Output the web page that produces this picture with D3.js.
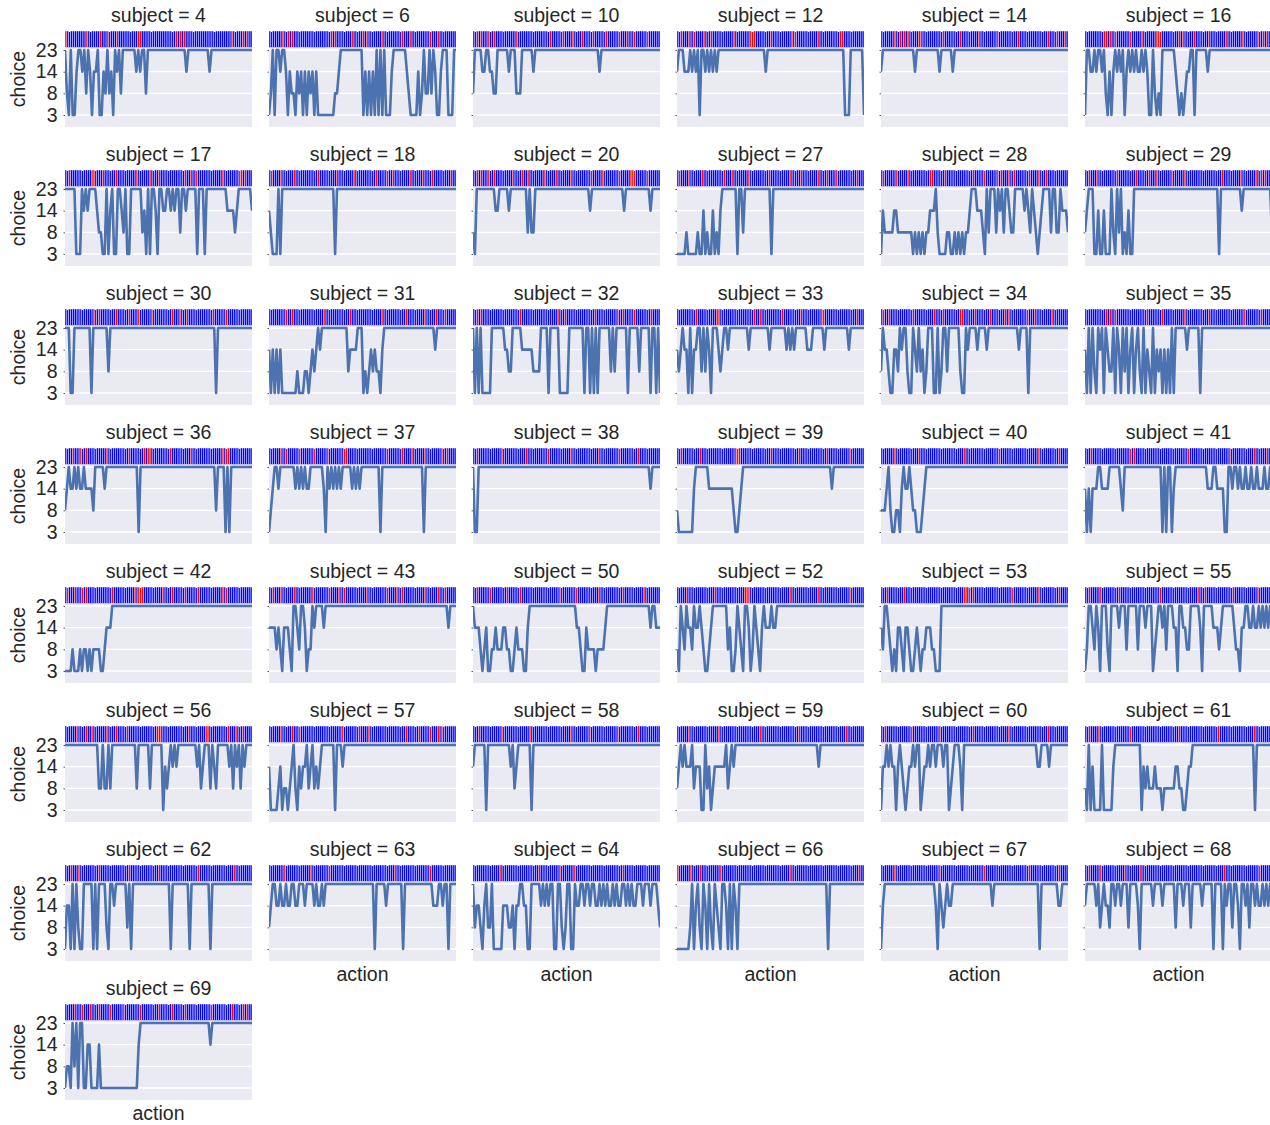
<!DOCTYPE html>
<html>
<head>
<meta charset="utf-8">
<script src="https://cdn.jsdelivr.net/npm/d3@7"></script>
<style>
  body { margin: 0; background: #ffffff; }
  text { font-family: "Liberation Sans", Arial, sans-serif; fill: #262626; }
</style>
</head>
<body>
<svg id="chart" width="1270" height="1125"></svg>
<script>
// Subjects, one panel each, in reading order
const subjects = [4, 6, 10, 12, 14, 16, 17, 18, 20, 27, 28, 29, 30, 31, 32, 33, 34, 35, 36, 37,
  38, 39, 40, 41, 42, 43, 50, 52, 53, 55, 56, 57, 58, 59, 60, 61, 62, 63, 64, 66, 67, 68, 69];

// Choice options, bottom to top on the y axis
const choiceLevels = [3, 8, 14, 23];
const choiceTickLabels = ["3", "8", "14", "23"];

// Choice on each trial, run-length coded: letter = option (A=3, B=8, C=14, D=23), number = trials in a row
const choiceRuns = [
  "D1B1A1D1A2C1D2C1D1B1D1C1A1C2D1A2C1B1D1B1C1A1D1C1D1B1D7C1D1C1D2B1D20C1D11C1D22",
  "A1B1D1A1D2C1D2C1A1C1B2A1C1B1C1A1C1A1C1B1C1A1C1A9B2C1D12A1C1A1C1A1C1A1D1A1D1A1D1A3C1D7C1B1A4C1A1B1D1B2D1B1D1C1A2C1D3A3D2",
  "B1D4C2D2C2B2D6C1D3B3D6C1D34C1D32",
  "C1D3C3D1C1D1C1D1A1D2C1D1C1D1C1D1C1D25C1D41A3D7A1",
  "C1D17C1D12C1D6C1D61",
  "A1D2C2D1C1D2C1D1B1A1C1A1C1D1C1D1C1D1A1C1D1C1D1C1D1C2D1C1D1C1A2D1B1A1B1A1D7C1B1A1B1A1B1C2D2A1D6C1D34",
  "D6A3D1C1D1C1D4C1B2A2D1A1C1D1A2D2C1B1D1A2D6B1C1A1D1A1D2C1A1D2C2D2C1D1C1D2B1D2C1D5A1D3A1D11C4B1C1D7C1",
  "C1B1A3D1A1D28A1D64",
  "B1A1D10C2D5C1D9B1D1B2D29C1D17C1D13C1D5",
  "A5B1A5B1A2C1A1B1A2C1A1B1A1C1D8A1D2B1D14A1D49",
  "A1C1B5C2B8A1B1A1B1A1B1A1B2C3D1B1A4B2A2B1A1B1A1B1A1B2C1D3C3B1A1D1B1D3B1D1C1D1B1D2C1B2D5C1D1C1B1D1C1B1A1B1C1D4B1D2B2D1C3B1",
  "B1C1D3A2C1A2C1A3D1B1A1D1B1D1A1B1A1C1A2D45A1D11C1D15B1",
  "D3A2D9A1D8B1D56A1D19",
  "C1A1C1A1C1A1C1A8B1A3B2A1B1C1B1C1D1C1D14B1C4D3A1B1A1B1C1B1C1B2A1C1D27C1D11",
  "D1A1D1A1D1A5D7C2B2D5C6B4D4A1D5A5D8A1D2A1D1A1D1A1D6B1D1B1D6A1D5B1D5A1D2A1D1A1",
  "C1B1C1D1C2A1D1A1C2D2B1D1B1D1C1A1D3C1B1C1D2C1D10C1D10C1D8C1D1C1D1C1D6C3D6C1D12C1D8",
  "B1D1C2B1A2C2B1D1C1D2B1A2D1C1B1D1B1C1A1B1D3A2D1A1B1D2B1D6B1A2D1C1D4C1D4C1D16C1D4A1D21",
  "C1A1D1A1D1B1A1D1C1D1A1D1C1B2D1A1D1C1A1D1B1D1A1C1D1A1C1D1B1A1D1A1C1B1A1D1A1C1B1C1A1C1A1C1A1D1A1D6C1D6A1D38",
  "B1C1D1C2D1C1D1C2D1C4B1D5C1D17A1D40B1D4A1D1A1D12",
  "A1B1C1D2C1D8C1D1C1D1C1D1C2D7C1A1D1C1D1C1D1C1D1C1D5C1D1C1D1C1D10A1D22A1D17",
  "D1A2D91C1D5",
  "B1A8C1D7C13B1A2B1C1D47C1D17",
  "B3C1D1B1A2B2A1C1D1C2D1C1B2A3B1C1D76",
  "C1A1C1A1C3D2C4D6C1B1D20A1D1A1D2A1C1D17C3D2C4A2D2C1D2C1D1C2D1C2D1C2D1C3D1C2D1C1",
  "A4B1A3B1A1B2A1B1A1B4A2B1C3D75",
  "C4B1C1B1A1C3B1A1D2C1B1D2C1A1B2D1C1D4C1D65C1D4",
  "D1C3B1A1B1C1A2B2C1B3C2B2A2B1C1B3A2C1D25C2B1A2C1B4A1B4C1D23C1D2C3",
  "B1A1D1C1B1D1C2B1D1C2D1C1B1A2B1C1D8B1C1A2B1D1C1B1A1D2C1A1B1D1C1B1A1C1D1C3D1C2D47",
  "C1B1D2C1B1A1B1A1C2B1A1C2B1A2B1C1B1A1B2C3B2A3D68",
  "A1B1D2C1B1D1C1A1D3B1A1D4C1D3B1D5B1D3C1D3A1B1C1D2C1D1B1D3C2A1D2C2B2D5C1A1D5C3B1C1D6C1B2A1C2D2C2D1C2D1C1D1C1D1C1D1C1",
  "D18B2D1B2D1B1D13B1D6B1D6A1C1B1C1D1C1D1C1D10C1D1B1C1D3B1D1C1B1D6C1D1B1D1C1D1B1D1C1D4",
  "C1A4B1C1A1B2A1B1C1D1B1A1C1B1C2D1B1C1D1B1C1B1C1D7A1D3C1D60",
  "C1D6A1D12C1D1B1C1D7A1D68",
  "B1C1D1C1D1C3D1B1C3A2D1B1C1A1B1C6D1B1C1D1C1D44C1D24",
  "A1C2D1C1D1C2A1C1D1C1B1A1B1C2D1C1D2A1B1C2D1C1D2C1D3C1D2A1B1C1D3C1A1D39C2D4C1D10",
  "B1A1D1A1C1A4D1A5C1D14A1C1B1C1B3C1B3A1B6C2B2A2B1C2D33A1D9",
  "A1C2A1D1A1D1B1A2D5A1D1A1D4B1A1D2C1D6B1D1A1D20A1D9A1D10A1D22",
  "B1C1D2C2D1C2D1C2D2C2D3C1D4C1D1C2D1C1D26A1D5C1D8A1D15C3D2C1D2A1D4",
  "D1B1C2B1A1C1D1B2D1A5C3B2C1A1C2D2C2A2D5C1D1C1D1C1D2A2D2B1A1B1D2A2D1C2D2C1D2C1D2C2D1C1D1C1D1C2D1C1D1C2D2C1D1C1D1C2D3C1D3C1D3C1B1",
  "A7B1D1A1C1D1B1A1D1C1A1D1B1A1D1C1B1A1D2C1A1D1A1D1C1A1D47A1D19",
  "A1C1D27C1A1D1C1B1C1D1C2D21C1D24A1D9C2D4",
  "C1D5C1D1B1C1D1C2B1D2C1D2C1D3B1D4C1A1D6C1D4C1D6B1D3C1D3B1D5C1D5A1D4A1D1C1D2B1D2C1A1D2C1D1B1D2C1D1C2D1C1D1C1D1C1",
  "A1B2A1D1B1D1A1D2A2C2A4C1A20C1D37C1D22"
];

// Trials drawn red in the outcome strip (all other trials are blue)
const redTrials = [
  [0, 11, 18, 22, 27, 38, 39, 58, 60, 62, 87, 93, 95],
  [7, 10, 12, 33, 35, 44, 50, 52, 60, 71, 75, 86, 90],
  [2, 4, 8, 11, 23, 41, 48, 53, 58, 64, 71, 78, 82, 86, 93],
  [2, 6, 9, 14, 18, 30, 39, 40, 41, 50, 61, 63, 75, 87, 88],
  [7, 10, 12, 14, 20, 21, 33, 42, 52, 62, 73, 89, 94, 98],
  [10, 11, 13, 16, 24, 30, 38, 39, 40, 50, 52, 58, 66, 75, 84, 92, 95, 97],
  [2, 14, 15, 20, 27, 38, 45, 50, 64, 67, 70, 84, 93, 94, 96],
  [1, 6, 13, 26, 36, 45, 57, 63, 66, 75, 82, 87, 97],
  [2, 4, 8, 11, 21, 26, 29, 38, 44, 52, 63, 69, 78, 84, 85, 86, 93],
  [1, 6, 13, 25, 29, 38, 49, 60, 66, 75, 80, 85, 96],
  [1, 8, 14, 26, 27, 34, 49, 55, 62, 64, 68, 71, 79, 84, 88],
  [2, 6, 17, 27, 34, 38, 46, 53, 73, 83, 91, 94, 96],
  [15, 18, 27, 34, 39, 46, 57, 61, 65, 79, 86],
  [9, 12, 29, 43, 60, 73, 83, 89, 94],
  [2, 4, 25, 45, 49, 65, 77, 80, 86, 95],
  [10, 21, 22, 41, 44, 56, 66, 77, 78, 96],
  [1, 4, 17, 28, 33, 42, 43, 50, 58, 66, 68, 78, 82, 91],
  [11, 13, 16, 33, 41, 53, 66, 85, 94],
  [4, 8, 11, 22, 34, 42, 44, 45, 56, 67, 84, 86, 87],
  [6, 9, 16, 24, 31, 40, 41, 63, 71, 76, 83, 92, 95],
  [2, 15, 28, 40, 52, 67, 78, 88],
  [2, 12, 31, 32, 33, 50, 65, 80, 92],
  [7, 20, 44, 63, 84, 95],
  [3, 24, 26, 55, 77, 90, 97],
  [1, 5, 9, 11, 25, 37, 39, 40, 41, 52, 57, 64, 71, 84, 86],
  [2, 6, 13, 23, 32, 37, 40, 52, 63, 68, 71, 83, 90, 94],
  [2, 9, 18, 25, 46, 55, 67, 80, 91],
  [5, 20, 36, 37, 38, 60, 75, 92],
  [3, 12, 44, 45, 47, 49, 70, 84, 95],
  [2, 8, 18, 40, 60, 64, 79, 92],
  [6, 11, 14, 22, 27, 33, 49, 50, 51, 66, 75, 76, 87, 91, 95],
  [6, 12, 16, 39, 48, 53, 73, 80, 86, 90, 92],
  [3, 15, 30, 52, 62, 77, 88],
  [6, 22, 44, 65, 90],
  [2, 16, 31, 49, 68, 89],
  [2, 7, 24, 50, 71, 90],
  [3, 7, 18, 34, 50, 71, 90],
  [8, 22, 32, 67, 86],
  [14, 35, 46, 54, 80],
  [0, 7, 12, 23, 60, 97],
  [7, 31, 55, 79, 95],
  [2, 8, 21, 29, 74, 93],
  [5, 9, 13, 18, 24, 31, 40, 50, 57, 64, 78, 89, 95, 97]
];

// ---- layout ----
const nCols = 6;
const left0 = 65, top0 = 31;
const panelW = 187, panelH = 96;
const colStep = 204, rowStep = 139;
const stripH = 16.4;
const fontPx = 19.5;
const levelCode = { A: 3, B: 8, C: 14, D: 23 };

function decodeRuns(s) {
  const out = [];
  for (const m of s.matchAll(/([A-D])(\d+)/g)) {
    for (let i = 0; i < +m[2]; i++) out.push(levelCode[m[1]]);
  }
  return out;
}

const svg = d3.select("#chart");

// Shared y scale (panel-local coordinates): categorical, evenly spaced
const y = d3.scalePoint()
  .domain(choiceLevels)
  .range([84, 19]);

subjects.forEach((subj, i) => {
  const col = i % nCols, row = Math.floor(i / nCols);
  const px = left0 + col * colStep, py = top0 + row * rowStep;
  const choices = decodeRuns(choiceRuns[i]);
  const n = choices.length;
  const reds = new Set(redTrials[i]);

  const x = d3.scaleLinear().domain([0, n - 1]).range([0, panelW]);
  const band = d3.scaleBand().domain(d3.range(n)).range([0, panelW]).padding(0);

  const g = svg.append("g").attr("transform", `translate(${px},${py})`);

  const clipId = `clip-${subj}`;
  g.append("clipPath").attr("id", clipId)
    .append("rect").attr("width", panelW).attr("height", panelH);

  // axes background
  g.append("rect")
    .attr("width", panelW).attr("height", panelH)
    .attr("fill", "#eaeaf2");

  // horizontal grid
  g.selectAll("line.grid")
    .data(choiceLevels)
    .join("line")
    .attr("class", "grid")
    .attr("x1", 0).attr("x2", panelW)
    .attr("y1", d => y(d)).attr("y2", d => y(d))
    .attr("stroke", "#ffffff").attr("stroke-width", 1.3);

  // y axis: tick labels only on the first column
  const axis = d3.axisLeft(y)
    .tickSize(1.5)
    .tickPadding(6)
    .tickFormat(col === 0 ? (d => choiceTickLabels[choiceLevels.indexOf(d)]) : "");
  const ax = g.append("g").call(axis);
  ax.select(".domain").remove();
  ax.selectAll(".tick line").attr("stroke", "#555").attr("stroke-width", 1);
  ax.selectAll(".tick text")
    .attr("font-size", fontPx)
    .attr("fill", "#262626")
    .style("font-family", "'Liberation Sans', Arial, sans-serif");

  const plot = g.append("g").attr("clip-path", `url(#${clipId})`);

  // outcome strip
  plot.selectAll("rect.trial")
    .data(d3.range(n))
    .join("rect")
    .attr("class", "trial")
    .attr("x", k => band(k))
    .attr("y", 0)
    .attr("width", band.bandwidth())
    .attr("height", stripH)
    .attr("fill", k => reds.has(k) ? "#ff0000" : "#0000ff")
    .attr("stroke", "#ffffff")
    .attr("stroke-width", 0.4);

  // choice line
  const line = d3.line()
    .x((d, k) => x(k))
    .y(d => y(d));
  plot.append("path")
    .datum(choices)
    .attr("d", line)
    .attr("fill", "none")
    .attr("stroke", "#4c72b0")
    .attr("stroke-width", 2.6)
    .attr("stroke-linejoin", "round");

  // panel title
  g.append("text")
    .attr("x", panelW / 2).attr("y", -9)
    .attr("text-anchor", "middle")
    .attr("font-size", fontPx)
    .text(`subject = ${subj}`);

  // y label on first column
  if (col === 0) {
    svg.append("text")
      .attr("transform", `translate(${25},${py + panelH / 2}) rotate(-90)`)
      .attr("text-anchor", "middle")
      .attr("font-size", fontPx)
      .text("choice");
  }

  // x label under the lowest panel of each column
  const lastInCol = i + nCols >= subjects.length;
  if (lastInCol) {
    g.append("text")
      .attr("x", panelW / 2).attr("y", panelH + 20)
      .attr("text-anchor", "middle")
      .attr("font-size", fontPx)
      .text("action");
  }
});
</script>
</body>
</html>
